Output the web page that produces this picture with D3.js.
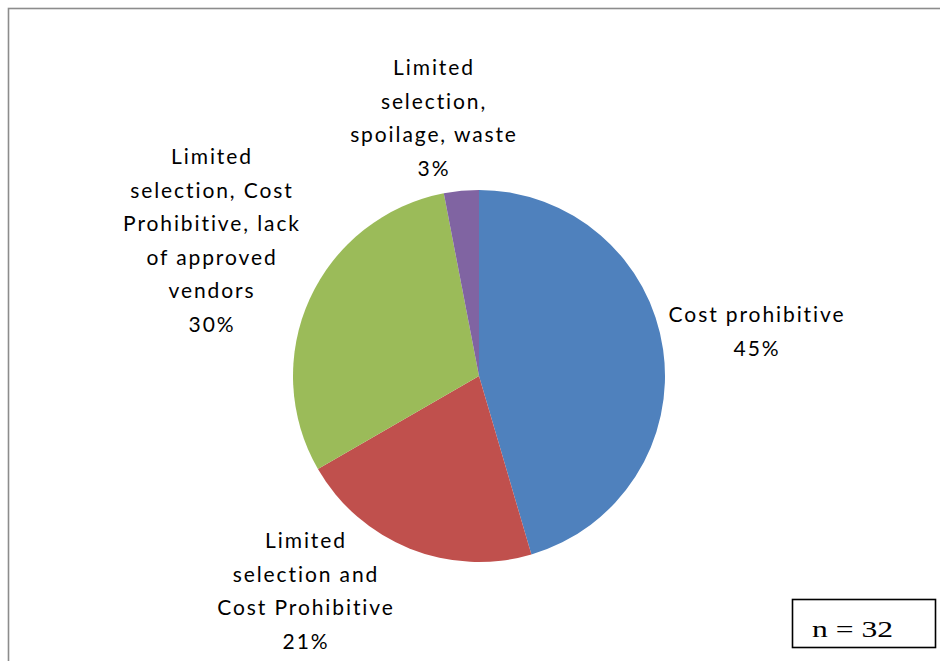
<!DOCTYPE html>
<html>
<head>
<meta charset="utf-8">
<script src="https://cdn.jsdelivr.net/npm/d3@7"></script>
<style>
  html, body { margin: 0; padding: 0; background: #fff; }
  svg { display: block; }
</style>
</head>
<body>
<svg id="chart" width="940" height="661"></svg>
<script>
// Reasons given for not doing more (share of responses, %)
const categories = [
  "Cost prohibitive",
  "Limited selection and Cost Prohibitive",
  "Limited selection, Cost Prohibitive, lack of approved vendors",
  "Limited selection, spoilage, waste"
];
const values = [45, 21, 30, 3];
const colors = ["#4F81BD", "#C0504D", "#9BBB59", "#8064A2"];
// Label text, broken into lines as they appear beside each slice
const labelLines = [
  ["Cost prohibitive", "45%"],
  ["Limited", "selection and", "Cost Prohibitive", "21%"],
  ["Limited", "selection, Cost", "Prohibitive, lack", "of approved", "vendors", "30%"],
  ["Limited", "selection,", "spoilage, waste", "3%"]
];
const sampleSize = 32;

const svg = d3.select("#chart");
const W = 940, H = 661;

// outer frame (runs off the right and bottom edges)
svg.append("rect")
  .attr("x", 8.5).attr("y", 8.5)
  .attr("width", W + 20).attr("height", H + 20)
  .attr("fill", "none")
  .attr("stroke", "#8c8c8c")
  .attr("stroke-width", 1.6);

const cx = 479, cy = 376, r = 186;

const pie = d3.pie().sort(null).value(d => d)
  .startAngle(0).endAngle(2 * Math.PI);
const arcs = pie(values);
const arc = d3.arc().innerRadius(0).outerRadius(r);

const g = svg.append("g").attr("transform", `translate(${cx},${cy})`);
g.selectAll("path")
  .data(arcs)
  .join("path")
  .attr("d", arc)
  .attr("fill", (d, i) => colors[i]);

// data labels: centre x and first baseline for each block
const labelPos = [
  { x: 757, y: 322 },
  { x: 306, y: 548 },
  { x: 212, y: 164 },
  { x: 434, y: 75 }
];
const lineH = 33.6;

const labels = svg.append("g")
  .attr("font-family", "Lato, 'Open Sans', sans-serif")
  .attr("font-size", 21)
  .attr("fill", "#000")
  .attr("text-anchor", "middle")
  .style("letter-spacing", "1.9px");

labelLines.forEach((lines, i) => {
  const t = labels.append("text")
    .attr("x", labelPos[i].x)
    .attr("y", labelPos[i].y);
  lines.forEach((ln, j) => {
    t.append("tspan")
      .attr("x", labelPos[i].x)
      .attr("dy", j === 0 ? 0 : lineH)
      .text(ln);
  });
});

// sample-size note
svg.append("rect")
  .attr("x", 792.5).attr("y", 599.5)
  .attr("width", 143).attr("height", 48)
  .attr("fill", "#fff")
  .attr("stroke", "#000")
  .attr("stroke-width", 1.6);
svg.append("text")
  .attr("x", 812).attr("y", 637)
  .attr("font-family", "'Liberation Serif', 'Times New Roman', serif")
  .attr("font-size", 24)
  .attr("fill", "#000")
  .attr("textLength", 81)
  .attr("lengthAdjust", "spacingAndGlyphs")
  .text(`n = ${sampleSize}`);
</script>
</body>
</html>
